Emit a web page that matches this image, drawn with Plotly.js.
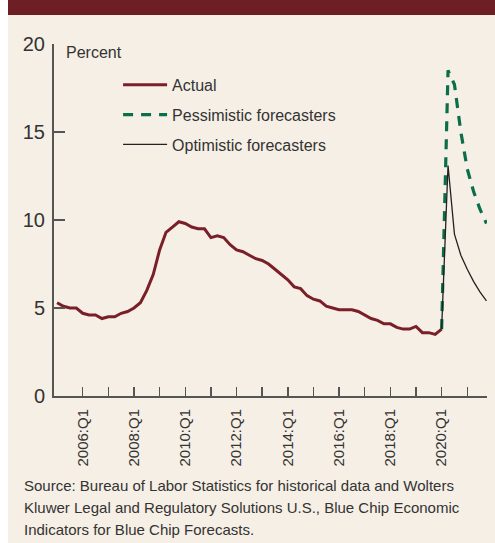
<!DOCTYPE html>
<html>
<head>
<meta charset="utf-8">
<script src="https://cdn.plot.ly/plotly-3.0.1.min.js"></script>
<style>
  body { margin: 0; background: #ffffff; }
  #band { position: absolute; left: 8px; top: 0; width: 487px; height: 15px; background: #6d1f25; }
  #chart { position: absolute; left: 8px; top: 15px; width: 487px; height: 528px; }
</style>
</head>
<body>
<div id="band"></div>
<div id="chart"></div>
<script>
// unemployment rate, quarterly, 2005:Q1 .. 2020:Q1
const actualStart = 2005;
const actual = [
  5.3, 5.1, 5.0, 5.0,   4.7, 4.6, 4.6, 4.4,   4.5, 4.5, 4.7, 4.8,
  5.0, 5.3, 6.0, 6.9,   8.3, 9.3, 9.6, 9.9,   9.8, 9.6, 9.5, 9.5,
  9.0, 9.1, 9.0, 8.6,   8.3, 8.2, 8.0, 7.8,   7.7, 7.5, 7.2, 6.9,
  6.6, 6.2, 6.1, 5.7,   5.5, 5.4, 5.1, 5.0,   4.9, 4.9, 4.9, 4.8,
  4.6, 4.4, 4.3, 4.1,   4.1, 3.9, 3.8, 3.8,   3.95, 3.6, 3.6, 3.5,
  3.8
];

// Blue Chip forecasts, 2020:Q1 .. 2021:Q4 (first point joins the actual line)
const forecastStart = 2020;
const pessimistic = [3.8, 18.5, 17.7, 15.0, 12.9, 11.6, 10.6, 9.8];
const optimistic  = [3.8, 13.1, 9.2, 8.0, 7.2, 6.5, 5.9, 5.4];

const tickYears = [2006, 2007, 2008, 2009, 2010, 2011, 2012, 2013,
                   2014, 2015, 2016, 2017, 2018, 2019, 2020, 2021];
const yTicks = [0, 5, 10, 15, 20];

const sourceLines = [
  'Source: Bureau of Labor Statistics for historical data and Wolters',
  'Kluwer Legal and Regulatory Solutions U.S., Blue Chip Economic',
  'Indicators for Blue Chip Forecasts.'
];

const FONT = '"Liberation Sans", Arial, sans-serif';
const INK = '#333333';

function quarters(start, n) {
  const xs = [];
  for (let i = 0; i < n; i++) xs.push(start + i / 4);
  return xs;
}

const traces = [
  {
    x: quarters(actualStart, actual.length),
    y: actual,
    name: 'Actual',
    legendgroup: 'a',
    mode: 'lines',
    line: { color: '#7a1f28', width: 3 }
  },
  {
    x: quarters(forecastStart, pessimistic.length),
    y: pessimistic,
    name: 'Pessimistic forecasters',
    legendgroup: 'p',
    mode: 'lines',
    line: { color: '#0a6e4a', width: 3.2, dash: '10px,8px' }
  },
  {
    x: quarters(forecastStart, optimistic.length),
    y: optimistic,
    name: 'Optimistic forecasters',
    legendgroup: 'o',
    mode: 'lines',
    line: { color: '#222222', width: 1.3 }
  }
];

// source note, one annotation per line so the spacing matches
const sourceNotes = sourceLines.map((t, i) => ({
  text: t, xref: 'paper', yref: 'paper',
  x: -0.074, y: -0.253 - i * 0.0635, xanchor: 'left', yanchor: 'middle',
  showarrow: false, font: { family: FONT, size: 15, color: INK }
}));

const layout = {
  width: 487,
  height: 528,
  margin: { l: 46, r: 8, t: 29, b: 147 },
  paper_bgcolor: '#f6efe5',
  plot_bgcolor: '#f6efe5',
  font: { family: FONT, color: INK, size: 16 },
  showlegend: true,
  legend: {
    x: 0.148, y: 0.932, xanchor: 'left', yanchor: 'top',
    bgcolor: 'rgba(0,0,0,0)',
    font: { family: FONT, size: 16, color: INK },
    itemwidth: 44,
    tracegroupgap: 6,
    traceorder: 'grouped'
  },
  xaxis: {
    range: [2004.88, 2021.77],
    tickmode: 'array',
    tickvals: tickYears,
    ticktext: tickYears.map(y => (y % 2 === 0 ? y + ':Q1' : '')),
    tickangle: -90,
    ticks: 'inside',
    ticklen: 9,
    tickwidth: 1.5,
    tickcolor: '#555555',
    showline: true,
    linecolor: '#555555',
    linewidth: 2,
    showgrid: false,
    zeroline: false,
    ticklabelstandoff: 5,
    tickfont: { family: FONT, size: 15, color: INK },
    fixedrange: true
  },
  yaxis: {
    range: [0, 20],
    tickvals: yTicks,
    ticks: 'inside',
    ticklen: 11,
    tickwidth: 1.5,
    tickcolor: '#555555',
    showline: true,
    linecolor: '#555555',
    linewidth: 2,
    showgrid: false,
    zeroline: false,
    ticklabelstandoff: 3,
    tickfont: { family: FONT, size: 20, color: INK },
    fixedrange: true
  },
  annotations: [
    {
      text: 'Percent', xref: 'paper', yref: 'paper',
      x: 0.024, y: 0.977, xanchor: 'left', yanchor: 'middle',
      showarrow: false, font: { family: FONT, size: 16, color: INK }
    }
  ].concat(sourceNotes)
};

Plotly.newPlot('chart', traces, layout, { displayModeBar: false, staticPlot: true });
</script>
</body>
</html>
